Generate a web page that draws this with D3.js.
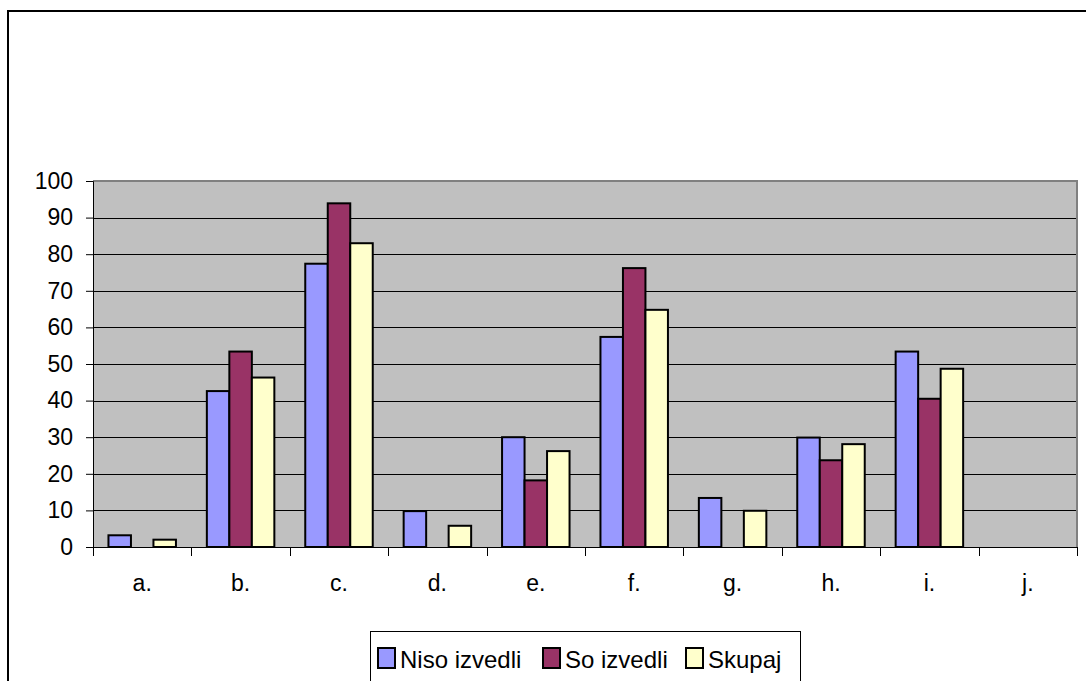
<!DOCTYPE html>
<html>
<head>
<meta charset="utf-8">
<script src="https://cdn.jsdelivr.net/npm/d3@7/dist/d3.min.js"></script>
<style>
  html, body { margin: 0; padding: 0; background: #fff; }
  svg { display: block; font-family: "Liberation Sans", Arial, sans-serif; }
</style>
</head>
<body>
<svg id="chart" width="1086" height="681"></svg>
<script>
const categories = ["a.", "b.", "c.", "d.", "e.", "f.", "g.", "h.", "i.", "j."];
const seriesNames = ["Niso izvedli", "So izvedli", "Skupaj"];
const nisoIzvedli = [3.2, 42.6, 77.4, 9.8, 30.0, 57.4, 13.4, 29.9, 53.4, 0];
const soIzvedli   = [0, 53.4, 93.9, 0, 18.2, 76.2, 0, 23.7, 40.5, 0];
const skupaj      = [2.0, 46.3, 83.0, 5.8, 26.2, 64.8, 9.9, 28.1, 48.7, 0];
const yTicks = [0, 10, 20, 30, 40, 50, 60, 70, 80, 90, 100];
const colors = ["#9999FF", "#993366", "#FFFFCC"];

const seriesValues = [nisoIzvedli, soIzvedli, skupaj];

const svg = d3.select("#chart");
const plot = { left: 93, right: 1077, top: 181, bottom: 547 };

// outer chart border
svg.append("rect")
  .attr("x", 8).attr("y", 11)
  .attr("width", 1100).attr("height", 700)
  .attr("fill", "#fff").attr("stroke", "#000").attr("stroke-width", 2);

const x0 = d3.scaleBand().domain(categories).range([plot.left, plot.right]).paddingInner(0).paddingOuter(0);
const x1 = d3.scaleBand().domain(seriesNames).range([0, x0.bandwidth()]).paddingInner(0).paddingOuter(0.687);
const y = d3.scaleLinear().domain([0, 100]).range([plot.bottom, plot.top]);

// plot area background
svg.append("rect")
  .attr("x", plot.left).attr("y", plot.top)
  .attr("width", plot.right - plot.left).attr("height", plot.bottom - plot.top)
  .attr("fill", "#C0C0C0");

// gridlines
svg.append("g").selectAll("line").data(yTicks.filter(d => d > 0 && d < 100)).join("line")
  .attr("x1", plot.left).attr("x2", plot.right)
  .attr("y1", d => Math.round(y(d)) + 0.5).attr("y2", d => Math.round(y(d)) + 0.5)
  .attr("stroke", "#000").attr("stroke-width", 1);

// plot border top/right (gray)
svg.append("path")
  .attr("d", `M${plot.left},${plot.top} H${plot.right} V${plot.bottom}`)
  .attr("fill", "none").attr("stroke", "#808080").attr("stroke-width", 2);

// bars
const data = [];
categories.forEach((c, i) => {
  seriesNames.forEach((s, j) => {
    const v = seriesValues[j][i];
    if (v > 0) data.push({ c, s, v, j });
  });
});
svg.append("g").selectAll("rect").data(data).join("rect")
  .attr("x", d => x0(d.c) + x1(d.s))
  .attr("y", d => y(d.v))
  .attr("width", x1.bandwidth())
  .attr("height", d => y(0) - y(d.v))
  .attr("fill", d => colors[d.j])
  .attr("stroke", "#000").attr("stroke-width", 2);

// y axis
const yAxis = d3.axisLeft(y).tickValues(yTicks).tickSize(7).tickPadding(13).tickFormat(d3.format("d"));
const gy = svg.append("g").attr("transform", `translate(${plot.left},0)`).call(yAxis);
gy.select(".domain").attr("stroke", "#000").attr("stroke-width", 1);
gy.selectAll(".tick line").attr("stroke", "#000");
gy.selectAll("text").attr("font-size", 23).attr("fill", "#000")
  .attr("font-family", "'Liberation Sans', Arial, sans-serif");

// x axis
const xAxis = d3.axisBottom(x0).tickSize(0).tickPadding(28);
const gx = svg.append("g").attr("transform", `translate(0,${plot.bottom})`).call(xAxis);
gx.select(".domain").attr("stroke", "#000").attr("stroke-width", 1);
gx.selectAll("text").attr("font-size", 23).attr("fill", "#000")
  .attr("font-family", "'Liberation Sans', Arial, sans-serif");
// category separator ticks
const bounds = categories.map(c => x0(c)).concat([plot.right]);
gx.append("g").selectAll("line").data(bounds).join("line")
  .attr("x1", d => Math.round(d) + 0.5).attr("x2", d => Math.round(d) + 0.5)
  .attr("y1", 0).attr("y2", 9)
  .attr("stroke", "#000");

// legend
const legend = svg.append("g");
legend.append("rect")
  .attr("x", 370.5).attr("y", 631.5).attr("width", 430).attr("height", 60)
  .attr("fill", "#fff").attr("stroke", "#000").attr("stroke-width", 1);
const legX = [378, 543, 686];
seriesNames.forEach((s, j) => {
  legend.append("rect")
    .attr("x", legX[j]).attr("y", 648).attr("width", 17).attr("height", 20)
    .attr("fill", colors[j]).attr("stroke", "#000").attr("stroke-width", 2);
  legend.append("text")
    .attr("x", legX[j] + 22).attr("y", 668)
    .attr("font-size", 24).attr("fill", "#000")
    .text(s);
});
</script>
</body>
</html>
